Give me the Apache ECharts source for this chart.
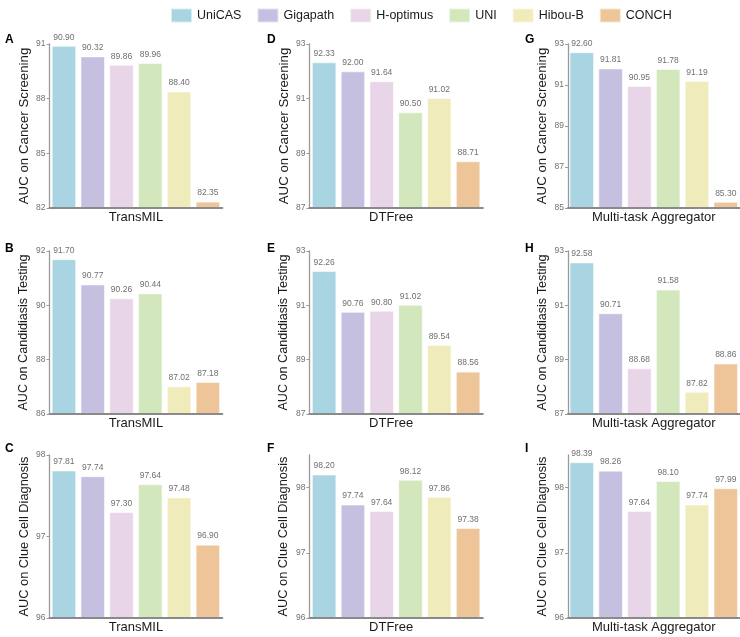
<!DOCTYPE html>
<html>
<head>
<meta charset="utf-8">
<script src="https://cdn.jsdelivr.net/npm/echarts@6/dist/echarts.min.js"></script>
<style>html,body{margin:0;padding:0;background:#fff;}#chart{width:740px;height:637px;}</style>
</head>
<body>
<div id="chart"></div>
<script>
// ---- Data ----
const models = ['UniCAS', 'Gigapath', 'H-optimus', 'UNI', 'Hibou-B', 'CONCH'];
const aggregators = ['TransMIL', 'DTFree', 'Multi-task Aggregator'];
const tasks = ['AUC on Cancer Screening', 'AUC on Candidiasis Testing', 'AUC on Clue Cell Diagnosis'];
const letters = ['A', 'B', 'C', 'D', 'E', 'F', 'G', 'H', 'I'];

const transmilCancer     = [90.90, 90.32, 89.86, 89.96, 88.40, 82.35];
const transmilCandida    = [91.70, 90.77, 90.26, 90.44, 87.02, 87.18];
const transmilClue       = [97.81, 97.74, 97.30, 97.64, 97.48, 96.90];
const dtfreeCancer       = [92.33, 92.00, 91.64, 90.50, 91.02, 88.71];
const dtfreeCandida      = [92.26, 90.76, 90.80, 91.02, 89.54, 88.56];
const dtfreeClue         = [98.20, 97.74, 97.64, 98.12, 97.86, 97.38];
const mtaCancer          = [92.60, 91.81, 90.95, 91.78, 91.19, 85.30];
const mtaCandida         = [92.58, 90.71, 88.68, 91.58, 87.82, 88.86];
const mtaClue            = [98.39, 98.26, 97.64, 98.10, 97.74, 97.99];

const ticksA = [82, 85, 88, 91];
const ticksB = [86, 88, 90, 92];
const ticksC = [96, 97, 98];
const ticksD = [87, 89, 91, 93];
const ticksE = [87, 89, 91, 93];
const ticksF = [96, 97, 98];
const ticksG = [85, 87, 89, 91, 93];
const ticksH = [87, 89, 91, 93];
const ticksI = [96, 97, 98];
const axisMaxF = 98.5;
const axisMaxI = 98.5;

const colors = ['#a8d5e1', '#c5c0e0', '#e9d5e8', '#d3e7bd', '#f0ebbb', '#edc598'];

// panel order: columns (aggregator) x rows (task)
const panelValues = [transmilCancer, transmilCandida, transmilClue,
                     dtfreeCancer, dtfreeCandida, dtfreeClue,
                     mtaCancer, mtaCandida, mtaClue];
const panelTicks = [ticksA, ticksB, ticksC, ticksD, ticksE, ticksF, ticksG, ticksH, ticksI];
const panelMax = [91, 92, 98, 93, 93, axisMaxF, 93, 93, axisMaxI];

// ---- Layout ----
const colLeft = [49.5, 309.4, 568];
const colWidth = [172.8, 173.4, 171.6];
const rowTop = [44, 251, 455];
const rowHeight = [164, 163, 163];
const nameFont = [13.3, 12.6, 12.8];
const letterLeft = [0, 262, 520];
const letterTop = [28.5, 238, 438];
const FONT = 'Liberation Sans, Arial, sans-serif';

const grid = [], xAxis = [], yAxis = [], series = [], title = [];
for (let c = 0; c < 3; c++) {
  for (let r = 0; r < 3; r++) {
    const p = c * 3 + r;
    grid.push({left: colLeft[c], top: rowTop[r], width: colWidth[c], height: rowHeight[r], containLabel: false});
    xAxis.push({
      type: 'category', gridIndex: p, data: [aggregators[c]], z: 5,
      axisTick: {show: false},
      splitLine: {show: false},
      axisLine: {show: true, lineStyle: {color: '#8a8a8a', width: 2}},
      axisLabel: {fontSize: 13, color: '#1a1a1a', margin: 3, fontFamily: FONT,
                  padding: c === 1 ? [0, 10, 0, 0] : 0}
    });
    const t = panelTicks[p];
    yAxis.push({
      type: 'value', gridIndex: p, min: t[0], max: panelMax[p], interval: t[1] - t[0], z: 5,
      splitLine: {show: false},
      axisLine: {show: true, lineStyle: {color: '#9a9a9a', width: 1.3}},
      axisTick: {show: true, length: 3, lineStyle: {color: '#9a9a9a'}, customValues: t},
      axisLabel: {fontSize: 8.5, color: '#707070', margin: 4, fontFamily: FONT, customValues: t},
      name: tasks[r], nameLocation: 'middle', nameGap: 19,
      nameTextStyle: {fontSize: nameFont[r], color: '#1a1a1a', fontFamily: FONT}
    });
    title.push({text: letters[p], left: letterLeft[c], top: letterTop[r],
                textStyle: {fontSize: 12, fontWeight: 'bold', color: '#000', fontFamily: FONT}});
    const vals = panelValues[p];
    for (let m = 0; m < models.length; m++) {
      series.push({
        type: 'bar', name: models[m], xAxisIndex: p, yAxisIndex: p,
        data: [vals[m]], barWidth: 24.5, barGap: '17.5%',
        itemStyle: {color: colors[m], borderColor: 'rgba(255,255,255,0.55)', borderWidth: 1},
        label: {show: true, position: 'top', distance: 4, fontSize: 8.5, color: '#707070', fontFamily: FONT,
                formatter: (q) => q.value.toFixed(2)},
        emphasis: {disabled: true}, animation: false
      });
    }
  }
}

const chart = echarts.init(document.getElementById('chart'), null, {renderer: 'canvas'});
chart.setOption({
  animation: false,
  title: title,
  legend: {
    data: models, left: 165, top: 2.5, itemWidth: 21, itemHeight: 14, itemGap: 15,
    icon: 'rect', textStyle: {fontSize: 12.5, color: '#1a1a1a', fontFamily: FONT, padding: [0, 0, 0, 0]},
    selectedMode: false
  },
  grid: grid, xAxis: xAxis, yAxis: yAxis, series: series
});
</script>
</body>
</html>
